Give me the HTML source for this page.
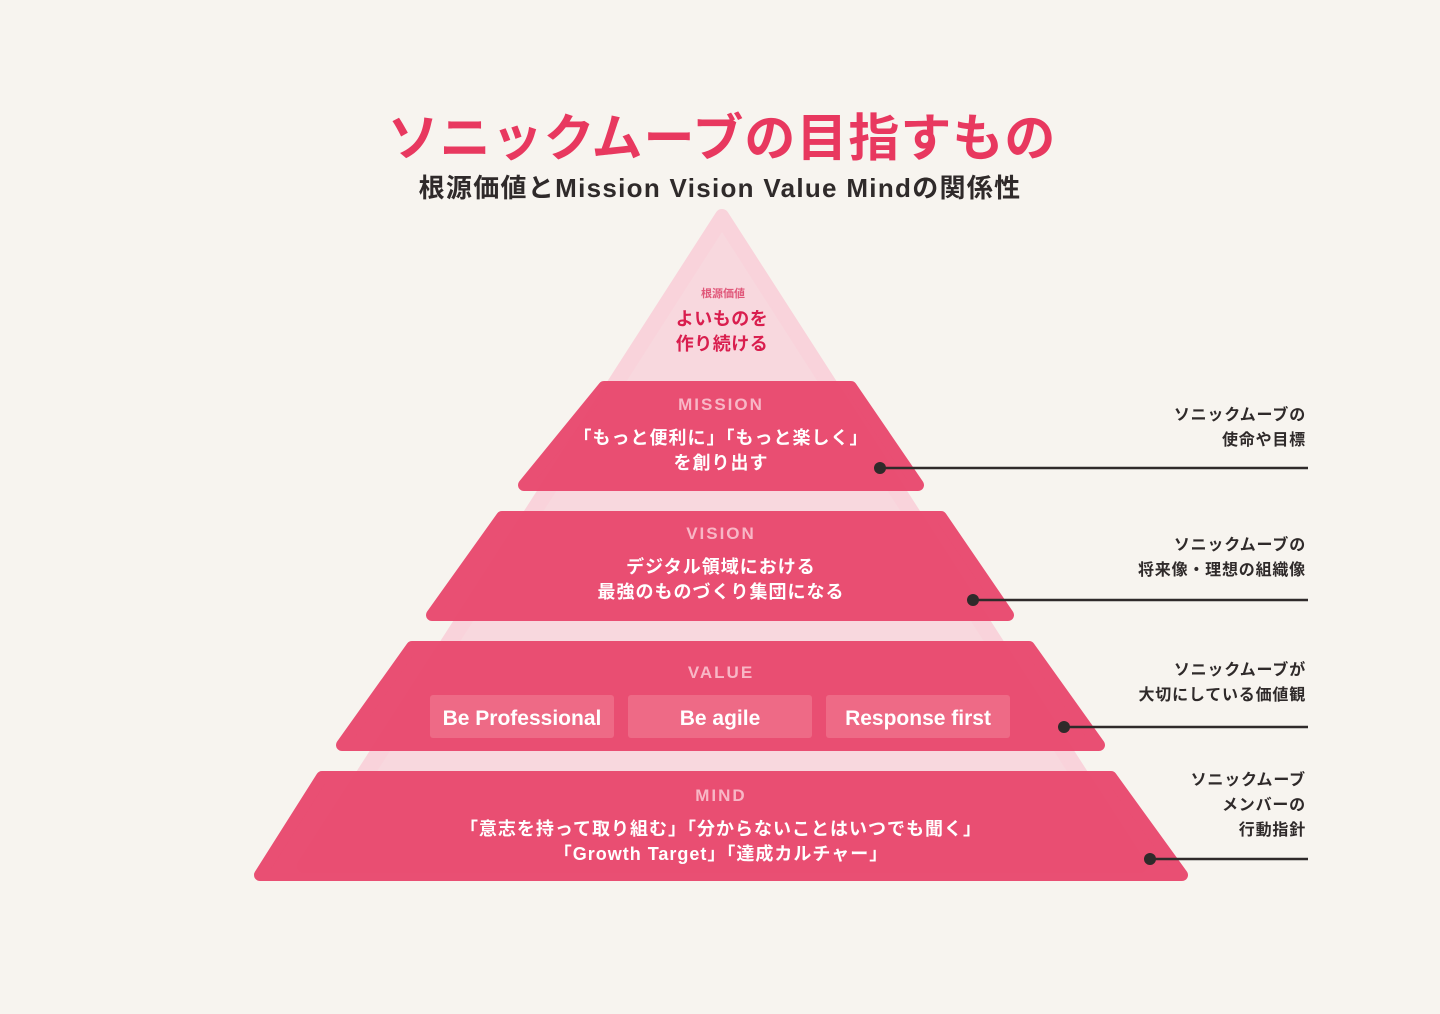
<!DOCTYPE html>
<html><head><meta charset="utf-8"><style>
html,body{margin:0;padding:0;background:#f7f4ef;}
svg{display:block;}
text{font-family:"Liberation Sans","Noto Sans CJK JP",sans-serif;font-weight:bold;}
</style></head><body>
<svg width="1440" height="1014" viewBox="0 0 1440 1014" xmlns="http://www.w3.org/2000/svg">
<rect width="1440" height="1014" fill="#f7f4ef"/>
<text x="722" y="156" text-anchor="middle" font-size="51" fill="#e8385f" letter-spacing="1">ソニックムーブの目指すもの</text>
<text x="720" y="197" text-anchor="middle" font-size="26" fill="#2f2a2a" letter-spacing="1.3">根源価値とMission Vision Value Mindの関係性</text>
<!-- background triangle -->
<polygon points="722,216 1140,866 304,866" fill="#f9d3db" stroke="#f9d3db" stroke-width="14" stroke-linejoin="round"/>
<polygon points="722,232 1125,862 319,862" fill="#f8d8de"/>
<text x="723" y="297" text-anchor="middle" font-size="11" fill="#e0587a">根源価値</text>
<text x="722" y="325" text-anchor="middle" font-size="18" fill="#d91e4e" letter-spacing="0.5">よいものを</text>
<text x="722" y="350" text-anchor="middle" font-size="18" fill="#d91e4e" letter-spacing="0.5">作り続ける</text>
<g fill="#e94a6f" stroke="#e94a6f" stroke-width="12" stroke-linejoin="round" opacity="0.97">
<polygon points="604,387 851,387 918,485 524,485"/>
<polygon points="502,517 941,517 1008,615 432,615"/>
<polygon points="412,647 1029,647 1099,745 342,745"/>
<polygon points="322,777 1111,777 1182,875 260,875"/>
</g>
<g font-size="17" fill="#f8b7c6" text-anchor="middle" letter-spacing="2">
<text x="721" y="410">MISSION</text>
<text x="721" y="539">VISION</text>
<text x="721" y="678">VALUE</text>
<text x="721" y="801">MIND</text>
</g>
<g font-size="18" fill="#fff" text-anchor="middle" letter-spacing="1">
<text x="721" y="444">「もっと便利に」「もっと楽しく」</text>
<text x="721" y="469">を創り出す</text>
<text x="721" y="573">デジタル領域における</text>
<text x="721" y="598">最強のものづくり集団になる</text>
<text x="721" y="835">「意志を持って取り組む」「分からないことはいつでも聞く」</text>
<text x="721" y="860">「Growth Target」「達成カルチャー」</text>
</g>
<g fill="#ee6a86">
<rect x="430" y="695" width="184" height="43" rx="3"/>
<rect x="628" y="695" width="184" height="43" rx="3"/>
<rect x="826" y="695" width="184" height="43" rx="3"/>
</g>
<g font-size="21" fill="#fff" text-anchor="middle">
<text x="522" y="725">Be Professional</text>
<text x="720" y="725">Be agile</text>
<text x="918" y="725">Response first</text>
</g>
<g stroke="#2f2a2a" stroke-width="2.5">
<line x1="880" y1="468" x2="1308" y2="468"/>
<line x1="973" y1="600" x2="1308" y2="600"/>
<line x1="1064" y1="727" x2="1308" y2="727"/>
<line x1="1150" y1="859" x2="1308" y2="859"/>
</g>
<g fill="#2f2a2a">
<circle cx="880" cy="468" r="6"/>
<circle cx="973" cy="600" r="6"/>
<circle cx="1064" cy="727" r="6"/>
<circle cx="1150" cy="859" r="6"/>
</g>
<g font-size="16" fill="#2f2a2a" text-anchor="end" letter-spacing="0.8">
<text x="1306" y="420">ソニックムーブの</text>
<text x="1306" y="445">使命や目標</text>
<text x="1306" y="550">ソニックムーブの</text>
<text x="1306" y="575">将来像・理想の組織像</text>
<text x="1306" y="675">ソニックムーブが</text>
<text x="1306" y="700">大切にしている価値観</text>
<text x="1306" y="785">ソニックムーブ</text>
<text x="1306" y="810">メンバーの</text>
<text x="1306" y="835">行動指針</text>
</g>
</svg>
</body></html>
